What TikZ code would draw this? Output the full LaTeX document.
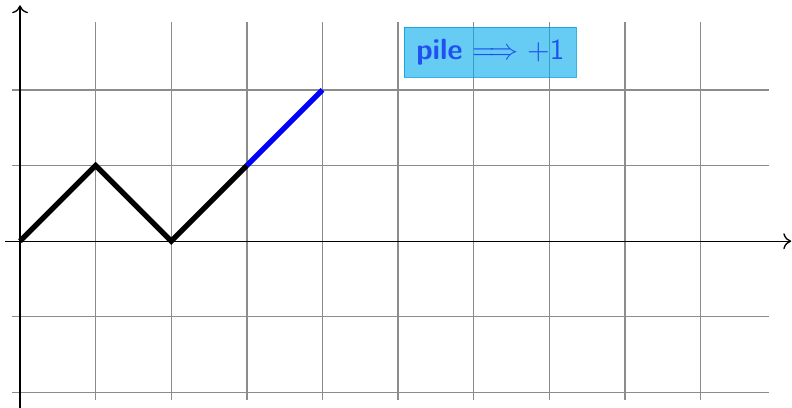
\documentclass[tikz,border=0pt]{standalone}
\usetikzlibrary{arrows.meta}
\definecolor{boxfill}{RGB}{0,170,235}
\definecolor{boxdraw}{RGB}{0,160,225}
\definecolor{boxtext}{RGB}{20,60,240}
\tikzset{
  gridline/.style={gray!90, line width=0.5pt},
  axisline/.style={black, line width=0.5pt, -{To[length=3pt,width=6pt]}},
  walk/.style={black, line width=2pt},
  walkup/.style={blue, line width=2pt},
  labelbox/.style={fill=boxfill, fill opacity=0.6, draw=boxdraw, draw opacity=0.8, text opacity=0.85, text=boxtext, font=\fontsize{11}{13}\selectfont, inner sep=4.5pt, minimum height=0.61cm, minimum width=2.25cm}
}
\begin{document}
\begin{tikzpicture}
\useasboundingbox (-0.265,-2.196) rectangle (10.21,3.19);
\draw[gridline] (-0.1,-2.1) grid (9.9,2.9);
\draw[axisline] (-0.2,0) -- (10.2,0);
\draw[axisline] (0,-2.2) -- (0,3.12);
\coordinate (p0) at (0,0);
\coordinate (p1) at (1,1);
\coordinate (p2) at (2,0);
\coordinate (p3) at (3,1);
\coordinate (p4) at (4,2);
\draw[walk, line join=miter] (p0) -- (p1) -- (p2) -- (p3);
\draw[walkup] (p3) -- (p4);
\node[labelbox] (lbl) at (6.22,2.5) {\textsf{\bfseries pile} $\Longrightarrow +\mathsf{1}$};
\end{tikzpicture}
\end{document}
